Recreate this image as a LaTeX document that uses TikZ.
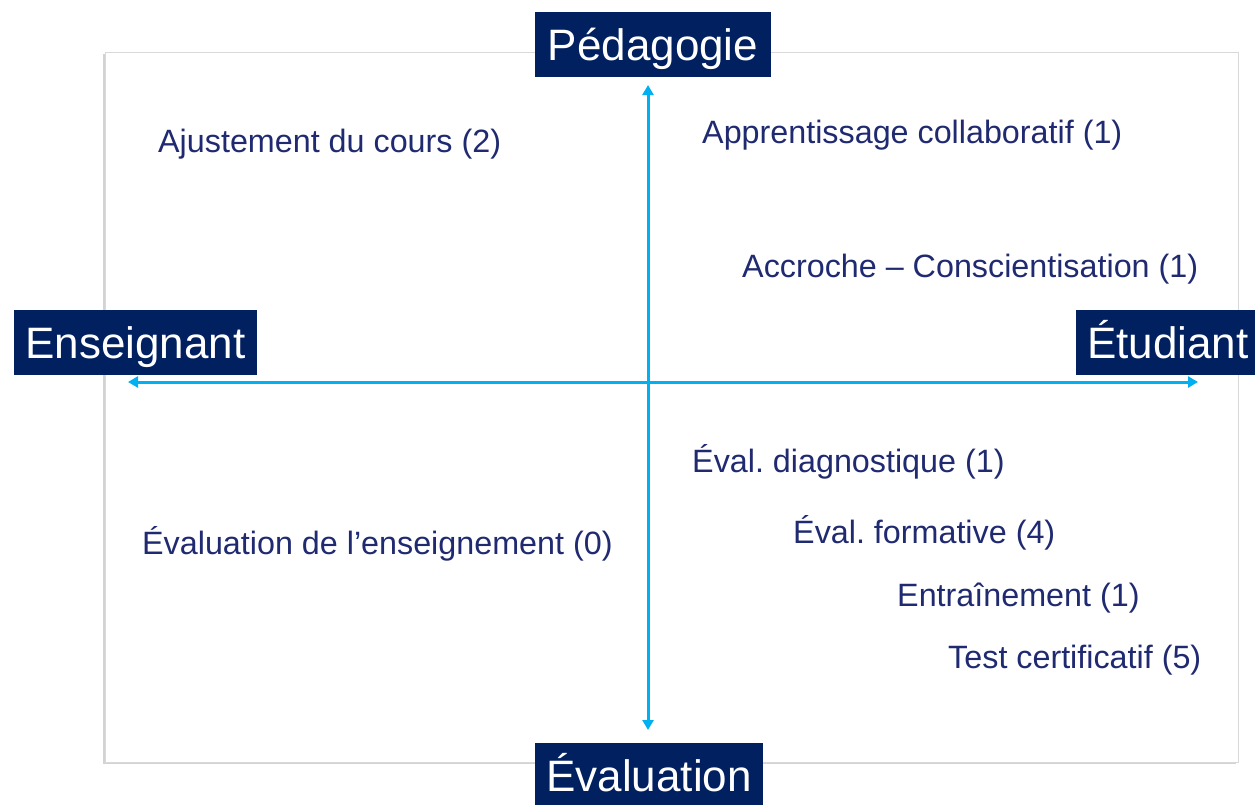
\documentclass[tikz,border=0pt]{standalone}
\usepackage{fontspec}
\setmainfont{Liberation Sans}
\usepackage{tikz}
\usetikzlibrary{arrows.meta}
\usetikzlibrary{shadows}
\definecolor{navy}{HTML}{002060}
\definecolor{itemblue}{RGB}{32,42,112}
\definecolor{axisblue}{HTML}{00B0F0}
\definecolor{framegray}{RGB}{217,217,217}
\frenchspacing
\tikzset{
	axis label/.style={fill=navy, text=white, inner xsep=11pt, minimum height=65pt,
		text height=38pt, text depth=6pt,
		font=\fontsize{44}{50}\selectfont},
	item/.style={anchor=base west, inner sep=0pt, text=itemblue,
		font=\fontsize{32.3}{37}\selectfont},
	axis arrow/.style={axisblue, line width=3pt,
		{Triangle[length=10pt,width=11pt]}-{Triangle[length=10pt,width=11pt]}},
}

\begin{document}
\begin{tikzpicture}[x=1pt,y=-1pt]
	\useasboundingbox (0,0) rectangle (1255,804);
	% frame
	\draw[framegray, line width=1pt, fill=white,
		drop shadow={shadow xshift=-2pt, shadow yshift=-2pt, opacity=.35}]
		(105,52) rectangle (1238,762);
	% axes
	\coordinate (top) at (648,85);
	\coordinate (bottom) at (648,730);
	\coordinate (left) at (128,382);
	\coordinate (right) at (1198,382);
	\draw[axis arrow] (left) -- (right);
	\draw[axis arrow] (top) -- (bottom);
	% axis labels
	\node[axis label, minimum width=236pt] (peda) at (653,44.5) {Pédagogie};
	\node[axis label] (ens) at (135.5,342) {Enseignant};
	\node[axis label, anchor=west] (etu) at (1076,342) {Étudiant};
	\node[axis label] (eval) at (649,775.5) {Évaluation};
	% items
	\node[item] (ajust) at (158,152) {Ajustement du cours (2)};
	\node[item] (collab) at (702,143) {Apprentissage collaboratif (1)};
	\node[item] (accroche) at (742,277) {Accroche – Conscientisation (1)};
	\node[item] (evens) at (142,554) {Évaluation de l’enseignement (0)};
	\node[item] (diag) at (692,472) {Éval. diagnostique (1)};
	\node[item] (form) at (793,543) {Éval. formative (4)};
	\node[item] (entr) at (897,606) {Entraînement (1)};
	\node[item] (certif) at (948,668) {Test certificatif (5)};
\end{tikzpicture}
\end{document}
